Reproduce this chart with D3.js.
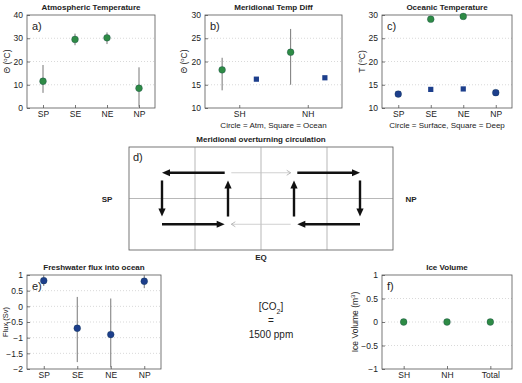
<!DOCTYPE html>
<html>
<head>
<meta charset="utf-8">
<script src="https://cdn.jsdelivr.net/npm/d3@7"></script>
<style>
  body { margin: 0; background: #fff; }
  text { font-family: "Liberation Sans", Arial, sans-serif; fill: #222; }
</style>
</head>
<body>
<svg width="522" height="383"></svg>
<script>
// ---- data ----
const regionCats = ["SP", "SE", "NE", "NP"];
const hemiCats = ["SH", "NH"];
const iceCats = ["SH", "NH", "Total"];

const atmTemp = [11.5, 29.5, 30.2, 8.5];
const atmTempLo = [6.5, 27.0, 27.5, 0.5];
const atmTempHi = [18.5, 32.0, 32.5, 17.5];

const atmDiff = [18.2, 22.0];
const atmDiffLo = [13.8, 15.0];
const atmDiffHi = [20.8, 27.0];
const ocnDiff = [16.2, 16.5];

const ocnSurface = [13.0, 29.1, 29.7, 13.3];
const ocnDeep = [13.0, 14.0, 14.1, 13.3];

const fwFlux = [0.82, -0.70, -0.90, 0.80];
const fwFluxLo = [0.65, -1.78, -1.95, 0.58];
const fwFluxHi = [1.0, 0.30, 0.25, 1.0];

const iceVolume = [0, 0, 0];

// overturning arrows, in cell units: [x1, y1, x2, y2, strength]
const mocArrows = [
  [1.45, 1.5, 0.5, 1.5, "strong"], [0.5, 1.35, 0.5, 0.65, "strong"],
  [0.5, 0.5, 1.45, 0.5, "strong"], [1.5, 0.65, 1.5, 1.35, "strong"],
  [1.55, 1.5, 2.45, 1.5, "weak"],  [2.45, 0.5, 1.55, 0.5, "weak"],
  [2.55, 1.5, 3.5, 1.5, "strong"], [3.5, 1.35, 3.5, 0.65, "strong"],
  [3.5, 0.5, 2.55, 0.5, "strong"], [2.5, 0.65, 2.5, 1.35, "strong"]
];

const green = "#2e8b45";
const blue = "#1d3f8c";
const svg = d3.select("svg");

function panel(o) {
  const g = svg.append("g");
  const x = d3.scaleLinear().domain([0.5, o.cats.length + 0.5]).range([o.x0, o.x1]);
  const y = d3.scaleLinear().domain(o.yDomain).range([o.y1, o.y0]);

  // dotted grid
  g.selectAll(".grid").data(o.yTicks.slice(1, -1)).enter().append("line")
    .attr("x1", o.x0).attr("x2", o.x1)
    .attr("y1", d => y(d)).attr("y2", d => y(d))
    .attr("stroke", "#c8c8c8").attr("stroke-width", 0.7).attr("stroke-dasharray", "1,2");

  g.append("rect").attr("x", o.x0).attr("y", o.y0)
    .attr("width", o.x1 - o.x0).attr("height", o.y1 - o.y0)
    .attr("fill", "none").attr("stroke", "#555").attr("stroke-width", 0.8);

  const ya = g.append("g").attr("transform", `translate(${o.x0},0)`)
    .call(d3.axisLeft(y).tickValues(o.yTicks).tickSize(-3).tickPadding(4).tickFormat(o.yFmt || d3.format("d")));
  const xa = g.append("g").attr("transform", `translate(0,${o.y1})`)
    .call(d3.axisBottom(x).tickValues(o.cats.map((c, i) => i + 1)).tickSize(-3).tickPadding(3)
      .tickFormat((d, i) => o.cats[i]));
  [ya, xa].forEach(a => {
    a.select(".domain").remove();
    a.selectAll("line").attr("stroke", "#555").attr("stroke-width", 0.8);
    a.selectAll("text").attr("font-size", 8.5).style("font-family", "Liberation Sans, Arial, sans-serif").attr("fill", "#222");
  });

  g.append("text").attr("x", (o.x0 + o.x1) / 2).attr("y", o.y0 - 5)
    .attr("text-anchor", "middle").attr("font-size", 8).attr("font-weight", "bold").text(o.title);
  g.append("text").attr("x", o.x0 + 5).attr("y", o.y0 + 15)
    .attr("font-size", 11).text(o.tag);

  const yl = g.append("text").attr("transform", `translate(${o.ylabX},${(o.y0 + o.y1) / 2}) rotate(-90)`)
    .attr("text-anchor", "middle").attr("font-size", o.ylabSize || 8.5);
  yl.append("tspan").text(o.ylab[0]);
  yl.append("tspan").attr("baseline-shift", "super").attr("font-size", 6).text(o.ylab[1]);
  yl.append("tspan").text(o.ylab[2]);

  if (o.xlab) {
    g.append("text").attr("x", (o.x0 + o.x1) / 2).attr("y", o.y1 + 19.5)
      .attr("text-anchor", "middle").attr("font-size", 8).text(o.xlab);
  }
  return { g, x, y };
}

function errBars(p, vals, lo, hi, dx) {
  p.g.selectAll(null).data(vals).enter().append("line")
    .attr("x1", (d, i) => p.x(i + 1 + dx)).attr("x2", (d, i) => p.x(i + 1 + dx))
    .attr("y1", (d, i) => p.y(lo[i])).attr("y2", (d, i) => p.y(hi[i]))
    .attr("stroke", "#777").attr("stroke-width", 1);
}
function dots(p, vals, dx, color) {
  p.g.selectAll(null).data(vals).enter().append("circle")
    .attr("cx", (d, i) => p.x(i + 1 + dx)).attr("cy", d => p.y(d))
    .attr("r", 3.4).attr("fill", (d, i) => typeof color === "function" ? color(i) : color)
    .attr("stroke", "#134").attr("stroke-width", 0.3);
}
function squares(p, vals, dx, color) {
  p.g.selectAll(null).data(vals).enter().append("rect")
    .attr("x", (d, i) => p.x(i + 1 + dx) - 2.6).attr("y", d => p.y(d) - 2.6)
    .attr("width", 5.2).attr("height", 5.2).attr("fill", color);
}

// a) atmospheric temperature
const pa = panel({ x0: 27, x1: 155, y0: 15, y1: 108, cats: regionCats, yDomain: [0, 40],
  yTicks: [0, 10, 20, 30, 40], title: "Atmospheric Temperature", tag: "a)",
  ylab: ["\u0398 (", "o", "C)"], ylabX: 10 });
errBars(pa, atmTemp, atmTempLo, atmTempHi, 0);
dots(pa, atmTemp, 0, green);

// b) meridional temperature difference
const pb = panel({ x0: 205, x1: 342, y0: 15, y1: 108, cats: hemiCats, yDomain: [10, 30],
  yTicks: [10, 15, 20, 25, 30], title: "Meridional Temp Diff", tag: "b)",
  ylab: ["\u0398 (", "o", "C)"], ylabX: 187, xlab: "Circle = Atm, Square = Ocean" });
errBars(pb, atmDiff, atmDiffLo, atmDiffHi, -0.25);
dots(pb, atmDiff, -0.25, green);
squares(pb, ocnDiff, 0.25, blue);

// c) oceanic temperature
const pc = panel({ x0: 382, x1: 512, y0: 15, y1: 108, cats: regionCats, yDomain: [10, 30],
  yTicks: [10, 15, 20, 25, 30], title: "Oceanic Temperature", tag: "c)",
  ylab: ["T (", "o", "C)"], ylabX: 365, xlab: "Circle = Surface, Square = Deep" });
squares(pc, ocnDeep, 0, blue);
dots(pc, ocnSurface, 0, i => (regionCats[i] === "SP" || regionCats[i] === "NP") ? blue : green);

// d) overturning circulation schematic
const dx = d3.scaleLinear().domain([0, 4]).range([129, 393]);
const dy = d3.scaleLinear().domain([0, 2]).range([250, 147]);
const gd = svg.append("g");
gd.append("rect").attr("x", dx(0)).attr("y", dy(2)).attr("width", dx(4) - dx(0)).attr("height", dy(0) - dy(2))
  .attr("fill", "none").attr("stroke", "#555").attr("stroke-width", 0.8);
gd.selectAll(null).data([1, 2, 3]).enter().append("line")
  .attr("x1", d => dx(d)).attr("x2", d => dx(d)).attr("y1", dy(0)).attr("y2", dy(2))
  .attr("stroke", "#888").attr("stroke-width", 0.6);
gd.append("line").attr("x1", dx(0)).attr("x2", dx(4)).attr("y1", dy(1)).attr("y2", dy(1))
  .attr("stroke", "#888").attr("stroke-width", 0.6);
gd.append("text").attr("x", (dx(0) + dx(4)) / 2).attr("y", dy(2) - 5).attr("text-anchor", "middle")
  .attr("font-size", 8).attr("font-weight", "bold").text("Meridional overturning circulation");
gd.append("text").attr("x", dx(0) + 4).attr("y", dy(2) + 14).attr("font-size", 11).text("d)");
gd.append("text").attr("x", 107).attr("y", dy(1) + 3).attr("text-anchor", "middle")
  .attr("font-size", 8).attr("font-weight", "bold").text("SP");
gd.append("text").attr("x", 411).attr("y", dy(1) + 3).attr("text-anchor", "middle")
  .attr("font-size", 8).attr("font-weight", "bold").text("NP");
gd.append("text").attr("x", dx(2)).attr("y", dy(0) + 10).attr("text-anchor", "middle")
  .attr("font-size", 8).attr("font-weight", "bold").text("EQ");

mocArrows.forEach(a => {
  const x1 = dx(a[0]), y1 = dy(a[1]), x2 = dx(a[2]), y2 = dy(a[3]);
  const ang = Math.atan2(y2 - y1, x2 - x1);
  const c = Math.cos(ang), s = Math.sin(ang);
  if (a[4] === "strong") {
    const L = 8, W = 3.6;
    gd.append("line").attr("x1", x1).attr("y1", y1).attr("x2", x2 - c * L * 0.8).attr("y2", y2 - s * L * 0.8)
      .attr("stroke", "#111").attr("stroke-width", 2.4);
    const pts = [[x2, y2], [x2 - c * L - s * W, y2 - s * L + c * W], [x2 - c * L + s * W, y2 - s * L - c * W]];
    gd.append("polygon").attr("points", pts.map(p => p.join(",")).join(" ")).attr("fill", "#111");
  } else {
    const L = 4, W = 2.5;
    gd.append("line").attr("x1", x1).attr("y1", y1).attr("x2", x2).attr("y2", y2)
      .attr("stroke", "#c4c4c4").attr("stroke-width", 0.8);
    const pts = [[x2 - c * L - s * W, y2 - s * L + c * W], [x2, y2], [x2 - c * L + s * W, y2 - s * L - c * W]];
    gd.append("polyline").attr("points", pts.map(p => p.join(",")).join(" "))
      .attr("fill", "none").attr("stroke", "#aaa").attr("stroke-width", 0.8);
  }
});

// e) freshwater flux
const pe = panel({ x0: 27, x1: 161, y0: 275, y1: 369, cats: regionCats, yDomain: [-2, 1],
  yTicks: [-2, -1.5, -1, -0.5, 0, 0.5, 1], yFmt: d3.format("~g"), title: "Freshwater flux into ocean", tag: "e)",
  ylab: ["Flux (Sv)", "", ""], ylabX: 7.5, ylabSize: 7.5 });
errBars(pe, fwFlux, fwFluxLo, fwFluxHi, 0);
dots(pe, fwFlux, 0, blue);

// f) ice volume
const pf = panel({ x0: 382, x1: 512, y0: 275, y1: 369, cats: iceCats, yDomain: [-1, 1],
  yTicks: [-1, -0.5, 0, 0.5, 1], yFmt: d3.format("~g"), title: "Ice Volume", tag: "f)",
  ylab: ["Ice Volume (m", "3", ")"], ylabX: 358 });
dots(pf, iceVolume, 0, green);

// CO2 annotation
const co2 = svg.append("text").attr("x", 271).attr("y", 310).attr("text-anchor", "middle").attr("font-size", 10);
co2.append("tspan").text("[CO");
co2.append("tspan").attr("baseline-shift", "sub").attr("font-size", 7).text("2");
co2.append("tspan").text("]");
svg.append("text").attr("x", 271).attr("y", 324).attr("text-anchor", "middle").attr("font-size", 10).text("=");
svg.append("text").attr("x", 271).attr("y", 338).attr("text-anchor", "middle").attr("font-size", 10).text("1500 ppm");
</script>
</body>
</html>
